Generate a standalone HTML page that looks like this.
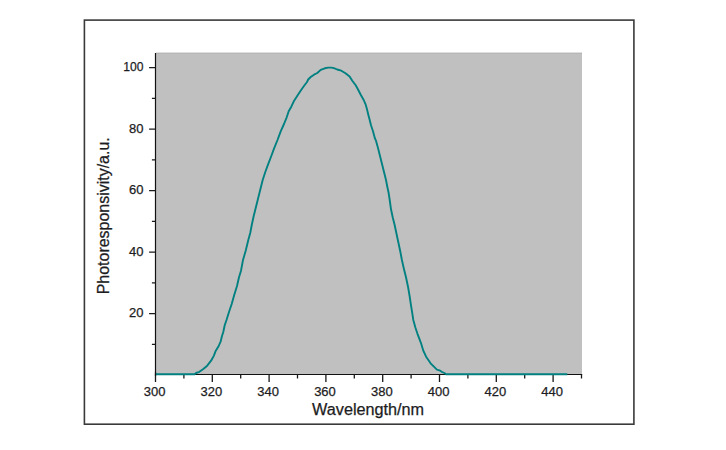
<!DOCTYPE html><html><head><meta charset="utf-8"><style>html,body{margin:0;padding:0;background:#fff;width:726px;height:450px;overflow:hidden}svg{display:block}text{font-family:"Liberation Sans",Arial,sans-serif;fill:#1c1c22;stroke:#1c1c22;stroke-width:0.25px}</style></head><body>
<svg width="726" height="450" viewBox="0 0 726 450">
<rect x="0" y="0" width="726" height="450" fill="#fff"/>
<rect x="84.4" y="20.1" width="549.5" height="404.1" fill="none" stroke="#3a3a3a" stroke-width="1.6"/>
<rect x="156" y="52.5" width="426" height="322" fill="#c0c0c0"/>
<rect x="156" y="53" width="426" height="1" fill="#b7b7b7"/>
<path d="M155.5 53 V375.2 M155 374.5 H582.2" fill="none" stroke="#111" stroke-width="1.2"/>
<path d="M151.9 344.4 H155.5 M149.1 313.7 H155.5 M151.9 282.9 H155.5 M149.1 252.2 H155.5 M151.9 221.4 H155.5 M149.1 190.7 H155.5 M151.9 159.9 H155.5 M149.1 129.2 H155.5 M151.9 98.4 H155.5 M149.1 67.6 H155.5 M155.5 374.5 V382.0 M183.9 374.5 V378.5 M212.3 374.5 V382.0 M240.7 374.5 V378.5 M269.1 374.5 V382.0 M297.5 374.5 V378.5 M325.9 374.5 V382.0 M354.3 374.5 V378.5 M382.7 374.5 V382.0 M411.1 374.5 V378.5 M439.5 374.5 V382.0 M467.9 374.5 V378.5 M496.3 374.5 V382.0 M524.7 374.5 V378.5 M553.1 374.5 V382.0 M581.5 374.5 V378.5 " fill="none" stroke="#1a1a1a" stroke-width="1.3"/>
<path d="M155.0 374.2 L194.5 374.2 L196.1 373.0 L199.4 371.8 L203.3 369.0 L207.2 365.7 L211.1 360.7 L213.9 355.6 L215.5 351.3 L218.7 346.0 L220.7 341.3 L222.0 336.0 L223.3 332.0 L224.7 325.3 L226.5 320.0 L229.0 312.0 L231.7 304.0 L234.3 294.7 L237.0 286.0 L239.0 277.3 L241.0 270.7 L243.0 260.0 L245.7 250.7 L248.3 240.0 L250.3 232.7 L251.7 225.3 L253.7 216.0 L255.7 208.0 L257.7 200.0 L260.0 190.7 L262.7 180.0 L265.3 172.0 L268.0 164.7 L271.3 156.0 L274.0 148.7 L277.5 140.0 L280.7 131.3 L284.0 124.0 L286.7 117.3 L288.7 111.3 L291.3 106.7 L293.8 101.3 L296.7 96.7 L299.3 92.7 L302.0 88.7 L304.7 85.0 L307.0 82.0 L308.2 79.5 L310.7 77.0 L314.0 74.7 L317.3 73.0 L320.7 69.9 L324.8 68.3 L328.1 67.6 L331.4 67.6 L333.9 68.1 L337.2 69.5 L341.3 70.7 L345.5 73.2 L349.6 76.5 L352.3 80.7 L355.7 85.3 L358.3 90.0 L361.0 95.3 L363.7 100.0 L365.7 104.7 L367.0 109.3 L368.3 114.7 L369.7 120.0 L371.0 125.3 L373.0 131.3 L375.0 138.7 L376.0 140.7 L378.0 148.0 L380.0 156.0 L382.0 164.0 L384.0 172.0 L386.0 180.0 L387.3 186.7 L388.7 193.3 L389.7 200.0 L391.0 209.3 L392.7 217.3 L394.7 225.3 L396.7 234.7 L398.7 244.0 L400.4 252.0 L401.9 260.0 L403.7 268.0 L406.0 277.3 L408.0 286.7 L409.6 296.0 L411.0 305.3 L412.3 313.3 L413.3 320.0 L415.3 327.3 L417.3 333.3 L419.3 338.7 L421.3 344.0 L423.3 350.7 L426.1 356.7 L430.6 363.3 L433.9 366.7 L436.9 369.7 L439.4 370.3 L441.7 371.8 L444.4 373.0 L446.0 374.2 L567.3 374.2" fill="none" stroke="#008080" stroke-width="1.9" stroke-linejoin="round"/>
<path d="M155.5 372 V376" stroke="#111" stroke-width="1.2"/>
<text x="143.5" y="317.0" font-size="13" text-anchor="end">20</text>
<text x="143.5" y="255.5" font-size="13" text-anchor="end">40</text>
<text x="143.5" y="194.0" font-size="13" text-anchor="end">60</text>
<text x="143.5" y="132.5" font-size="13" text-anchor="end">80</text>
<text x="143.5" y="70.9" font-size="13" text-anchor="end" textLength="20.2" lengthAdjust="spacingAndGlyphs">100</text>
<text x="154.6" y="395.8" font-size="13" text-anchor="middle">300</text>
<text x="211.4" y="395.8" font-size="13" text-anchor="middle">320</text>
<text x="268.2" y="395.8" font-size="13" text-anchor="middle">340</text>
<text x="325.0" y="395.8" font-size="13" text-anchor="middle">360</text>
<text x="381.8" y="395.8" font-size="13" text-anchor="middle">380</text>
<text x="438.6" y="395.8" font-size="13" text-anchor="middle">400</text>
<text x="495.4" y="395.8" font-size="13" text-anchor="middle">420</text>
<text x="552.2" y="395.8" font-size="13" text-anchor="middle">440</text>
<text x="368.1" y="414.7" font-size="16" text-anchor="middle" textLength="112" lengthAdjust="spacingAndGlyphs">Wavelength/nm</text>
<text transform="translate(108.9 215.8) rotate(-90)" x="0" y="0" font-size="16" text-anchor="middle" textLength="157" lengthAdjust="spacingAndGlyphs">Photoresponsivity/a.u.</text>
</svg></body></html>
